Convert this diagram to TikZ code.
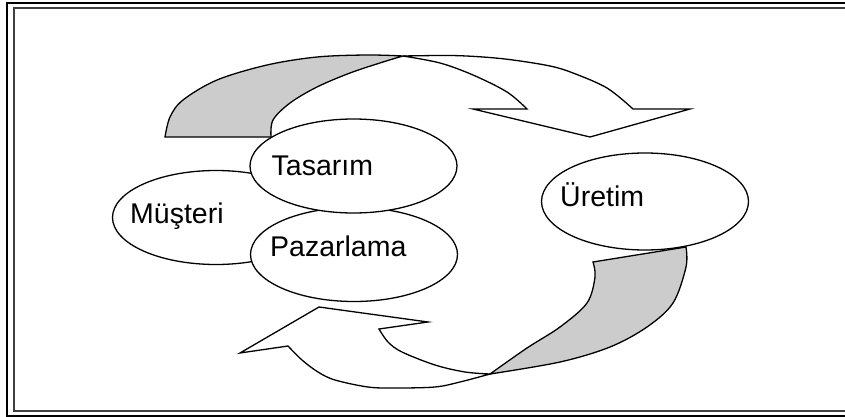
\documentclass[tikz,border=0pt]{standalone}
\usepackage{fontspec}
\setmainfont{Liberation Sans}
\usetikzlibrary{shapes.geometric}
\begin{document}
\begin{tikzpicture}[x=1pt,y=-1pt,
  arrowshape/.style={draw=black,line width=1.3pt,line join=miter},
  oval/.style={ellipse,draw=black,fill=white,line width=1.3pt,inner sep=0pt,minimum width=207pt,minimum height=94pt},
  lbl/.style={anchor=base west,inner sep=0pt,font=\fontsize{28.5}{34}\selectfont},
  curve/.style={smooth,tension=0.55}]
\useasboundingbox (0,0) rectangle (845,417);
\clip (0,0) rectangle (845,417);
% frame
\draw[line width=2.2pt] (7.2,2.7) rectangle (870,416);
\draw[line width=2pt,black!75] (13.5,8.3) rectangle (870,410.7);
% ellipses
\node[oval] (mus) at (216,217.5) {};
\node[oval] (paz) at (354,254.5) {};
\node[oval] (tas) at (353.5,166) {};
\node[oval,minimum height=97pt] (ure) at (645,201.5) {};
% labels
\node[lbl] (musl) at (130,223) {Müşteri};
\node[lbl] (tasl) at (271.5,175) {Tasarım};
\node[lbl] (pazl) at (270,256.5) {Pazarlama};
\node[lbl] (urel) at (560,206) {Üretim};
% top curved arrow: shaded back part
\draw[arrowshape,fill=black!20] plot[curve] coordinates {(165,137) (170,117) (183,100) (217,80) (267,65) (317,57) (367,55) (403,56)}
  -- plot[curve] coordinates {(403,56) (383,62) (350,73) (317,87) (290,103) (273,120) (271,137)} -- cycle;
% top curved arrow: front part with head
\draw[arrowshape,fill=white] plot[curve] coordinates {(403,56) (440,63) (473,75) (507,92) (527,109)}
  -- (473,109) -- (590,137) -- (690,109) -- (633,109)
  -- plot[curve] coordinates {(633,109) (607,88) (573,73) (550,66) (513,60) (483,57) (450,55.5) (403,56)} -- cycle;
% bottom curved arrow: front part with head
\draw[arrowshape,fill=white] plot[curve] coordinates {(379,329) (388,342) (402,352) (435,365) (465,372) (490,374)}
  -- plot[curve] coordinates {(490,374) (460,382) (435,387) (395,388) (368,387) (335,380) (318,372) (302,360) (288,346)}
  -- (240,353) -- (319,307) -- (428,322) -- cycle;
% bottom curved arrow: shaded back part
\draw[arrowshape,fill=black!20] plot[curve] coordinates {(593,262) (595,277) (587,303) (560,327) (527,348) (490,374)}
  -- plot[curve] coordinates {(490,374) (560,362) (610,347) (647,327) (673,303) (686,267) (686,247)} -- cycle;
\end{tikzpicture}
\end{document}
